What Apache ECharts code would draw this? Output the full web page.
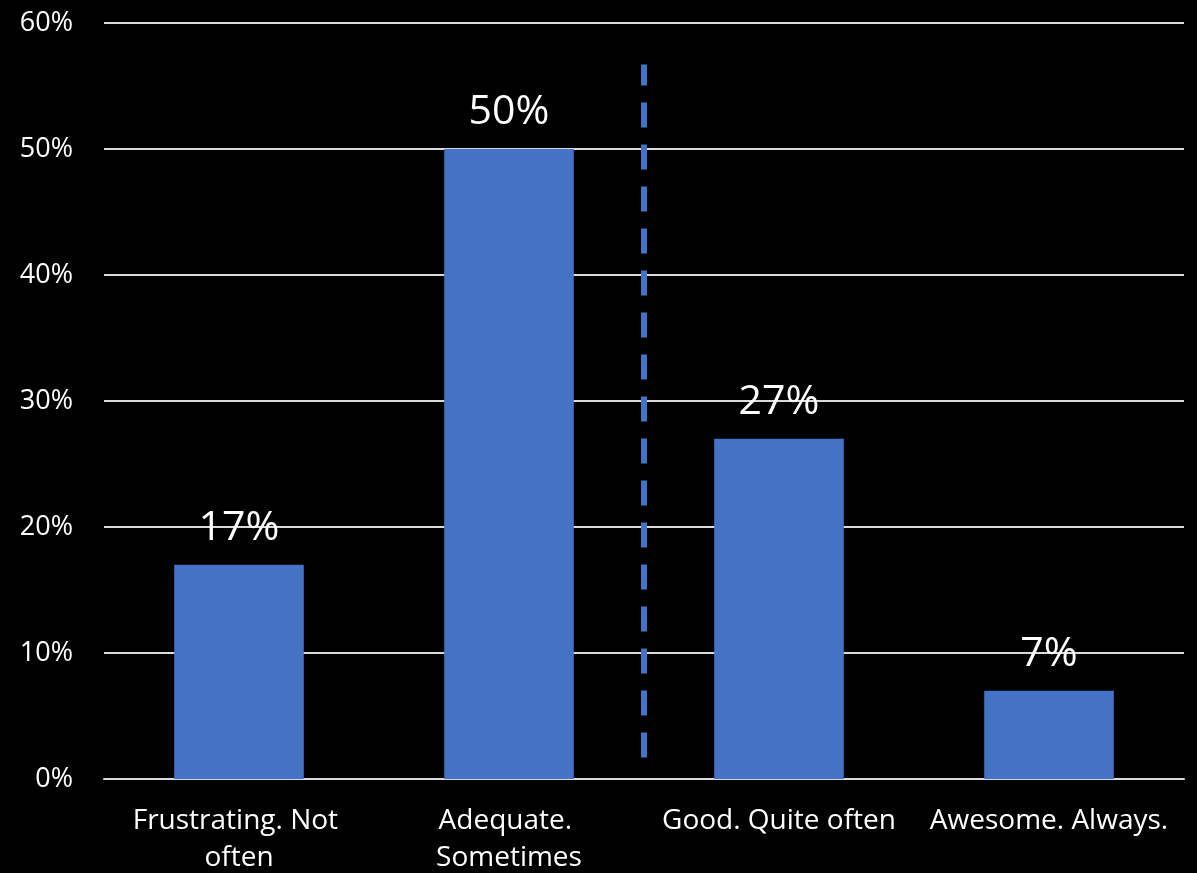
<!DOCTYPE html>
<html>
<head>
<meta charset="utf-8">
<script src="https://cdn.jsdelivr.net/npm/echarts@6/dist/echarts.min.js"></script>
<style>
html,body{margin:0;padding:0;background:#000;overflow:hidden;}
#chart{width:1197px;height:873px;}
</style>
</head>
<body>
<div id="chart"></div>
<script>
const categories = ['Frustrating. Not often', 'Adequate. Sometimes', 'Good. Quite often', 'Awesome. Always.'];
const values = [17, 50, 27, 7];
const yTicks = [0, 10, 20, 30, 40, 50, 60];
const dividerX = 2;               // boundary between 2nd and 3rd category (in category units)
const dividerRange = [1.7, 56.7]; // vertical extent in %

const chart = echarts.init(document.getElementById('chart'));
const font = '"Open Sans", "Noto Sans", sans-serif';
chart.setOption({
  backgroundColor: '#000000',
  animation: false,
  grid: { left: 104, right: 13, top: 23, bottom: 94, containLabel: false, outerBoundsMode: 'none' },
  xAxis: [
    {
      type: 'category',
      data: categories,
      axisTick: { show: false },
      axisLine: { show: true, lineStyle: { color: '#d9d9d9', width: 2 } },
      axisLabel: {
        color: '#ffffff', fontFamily: font, fontSize: 28,
        margin: 24, lineHeight: 37,
        width: 262, overflow: 'break', interval: 0
      }
    },
    { type: 'value', min: 0, max: 4, show: false }
  ],
  yAxis: {
    type: 'value', min: yTicks[0], max: yTicks[yTicks.length - 1], interval: 10,
    axisLine: { show: false }, axisTick: { show: false },
    splitLine: { lineStyle: { color: '#d9d9d9', width: 2 } },
    axisLabel: { color: '#ffffff', fontFamily: font, fontSize: 27, margin: 31, formatter: '{value}%' }
  },
  series: [
    {
      type: 'bar', data: values, barWidth: '48%',
      itemStyle: { color: '#4472C4' },
      label: { show: true, position: 'top', distance: 16, color: '#ffffff', fontFamily: font, fontSize: 41, formatter: '{c}%' },
      z: 2
    },
    {
      type: 'line', xAxisIndex: 1,
      data: [[dividerX, dividerRange[0]], [dividerX, dividerRange[1]]],
      symbol: 'none',
      lineStyle: { color: '#4472C4', width: 6, type: [25, 17], cap: 'butt' },
      z: 3
    }
  ]
});
</script>
</body>
</html>
